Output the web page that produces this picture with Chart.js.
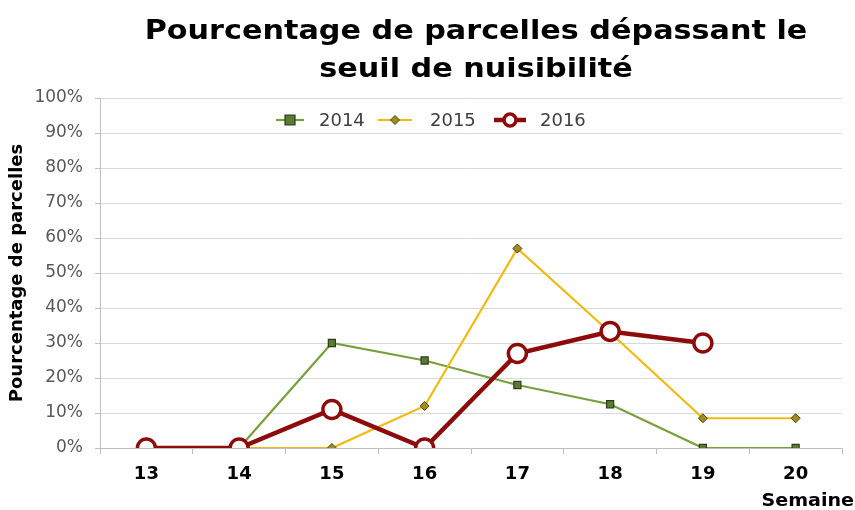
<!DOCTYPE html>
<html><head><meta charset="utf-8">
<script src="https://cdn.jsdelivr.net/npm/chart.js@4.4.1/dist/chart.umd.min.js"></script>
<style>html,body{margin:0;padding:0;background:#fff}</style>
</head><body><canvas id="c" width="855" height="510"></canvas>
<script>
const titleLines = ['Pourcentage de parcelles dépassant le', 'seuil de nuisibilité'];
const weeks = ['13', '14', '15', '16', '17', '18', '19', '20'];
const seriesNames = ['2014', '2015', '2016'];
const values2014 = [null, 0, 30, 25, 18, 12.5, 0, 0];
const values2015 = [null, 0, 0, 12, 57, 33, 8.5, 8.5];
const values2016 = [0, 0, 11, 0, 27, 33.3, 30, null];
const yAxisTitle = 'Pourcentage de parcelles';
const xAxisTitle = 'Semaine';

const FONT = '"DejaVu Sans", Verdana, sans-serif';

function drawMarker(ctx, ds, x, y) {
  const r = ds.pointRadius;
  ctx.save();
  ctx.fillStyle = ds.pointBackgroundColor;
  ctx.strokeStyle = ds.pointBorderColor;
  ctx.lineWidth = ds.pointBorderWidth;
  ctx.beginPath();
  if (ds.pointStyle === 'rect') {
    ctx.rect(x - r, y - r, 2 * r, 2 * r);
  } else if (ds.pointStyle === 'rectRot') {
    ctx.moveTo(x, y - r); ctx.lineTo(x + r, y); ctx.lineTo(x, y + r); ctx.lineTo(x - r, y); ctx.closePath();
  } else {
    ctx.arc(x, y, r, 0, Math.PI * 2);
  }
  ctx.fill(); ctx.stroke();
  ctx.restore();
}

function stretchedText(ctx, text, x, y, sx) {
  ctx.save();
  ctx.translate(x, y);
  ctx.scale(sx, 1);
  ctx.fillText(text, 0, 0);
  ctx.restore();
}

const decor = {
  id: 'decor',
  afterDraw(chart) {
    const ctx = chart.ctx;
    ctx.save();
    // title
    ctx.fillStyle = '#000';
    ctx.font = 'bold 27px ' + FONT;
    ctx.textAlign = 'center';
    ctx.textBaseline = 'alphabetic';
    stretchedText(ctx, titleLines[0], 476, 39, 1.12);
    stretchedText(ctx, titleLines[1], 476, 77, 1.12);
    // x axis title
    ctx.font = 'bold 18px ' + FONT;
    ctx.textAlign = 'right';
    ctx.textBaseline = 'middle';
    stretchedText(ctx, xAxisTitle, 854, 501, 1.06);
    // legend
    const items = [{lx: 276, tx: 319}, {lx: 378, tx: 430}, {lx: 494, tx: 540}];
    const legendWidths = [28, 34, 32];
    ctx.font = '18px ' + FONT;
    ctx.textAlign = 'left';
    chart.data.datasets.forEach((ds, i) => {
      const y = 120;
      const x0 = items[i].lx, x1 = x0 + legendWidths[i];
      ctx.strokeStyle = ds.borderColor;
      ctx.lineWidth = ds.borderWidth;
      ctx.beginPath(); ctx.moveTo(x0, y); ctx.lineTo(x1, y); ctx.stroke();
      drawMarker(ctx, {
        pointRadius: Math.min(ds.pointRadius, 6),
        pointStyle: ds.pointStyle,
        pointBackgroundColor: ds.pointBackgroundColor,
        pointBorderColor: ds.pointBorderColor,
        pointBorderWidth: ds.pointBorderWidth
      }, (x0 + x1) / 2, y);
      ctx.fillStyle = '#404040';
      ctx.fillText(ds.label, items[i].tx, y + 1);
    });
    ctx.restore();
  }
};

new Chart(document.getElementById('c'), {
  type: 'line',
  data: {
    labels: weeks,
    datasets: [
      {
        label: seriesNames[0], data: values2014, order: 2,
        borderColor: '#77a03c', borderWidth: 2.2,
        pointStyle: 'rect', pointRadius: 5, pointBackgroundColor: '#5b7a32',
        pointBorderColor: '#2d3d18', pointBorderWidth: 1.2, tension: 0
      },
      {
        label: seriesNames[1], data: values2015, order: 1,
        borderColor: '#f2b90f', borderWidth: 2.2,
        pointStyle: 'rectRot', pointRadius: 4.5, pointBackgroundColor: '#a08c1e',
        pointBorderColor: '#4d4410', pointBorderWidth: 1, tension: 0
      },
      {
        label: seriesNames[2], data: values2016, order: 0,
        borderColor: '#8e0b0b', borderWidth: 4.5,
        pointStyle: 'circle', pointRadius: 9, pointBackgroundColor: '#ffffff',
        pointBorderColor: '#8e0b0b', pointBorderWidth: 3.5, tension: 0
      }
    ]
  },
  options: {
    responsive: false,
    animation: false,
    devicePixelRatio: 1,
    spanGaps: false,
    layout: { padding: { top: 98, right: 13, left: 0, bottom: 0 } },
    plugins: { legend: { display: false }, title: { display: false }, tooltip: { enabled: false } },
    scales: {
      x: {
        offset: true,
        grid: { offset: true, drawOnChartArea: false, drawTicks: true, tickLength: 6, color: '#bfbfbf' },
        border: { display: true, color: '#bfbfbf', width: 1 },
        ticks: { color: '#000', font: { family: FONT, size: 18, weight: 'bold' }, padding: 10, maxRotation: 0 },
        afterFit(s) { s.height = 62; }
      },
      y: {
        min: 0, max: 100,
        ticks: { stepSize: 10, color: '#595959', font: { family: FONT, size: 17 }, padding: 12,
          callback: v => v + '%' },
        grid: { color: '#d9d9d9', tickLength: 5, drawTicks: true, tickColor: '#bfbfbf' },
        border: { display: true, color: '#bfbfbf', width: 1 },
        title: { display: true, text: yAxisTitle, color: '#000', font: { family: FONT, size: 18, weight: 'bold' }, padding: { top: 7, bottom: 0 } },
        afterFit(s) { s.width = 100; }
      }
    }
  },
  plugins: [decor]
});
</script>
</body></html>
